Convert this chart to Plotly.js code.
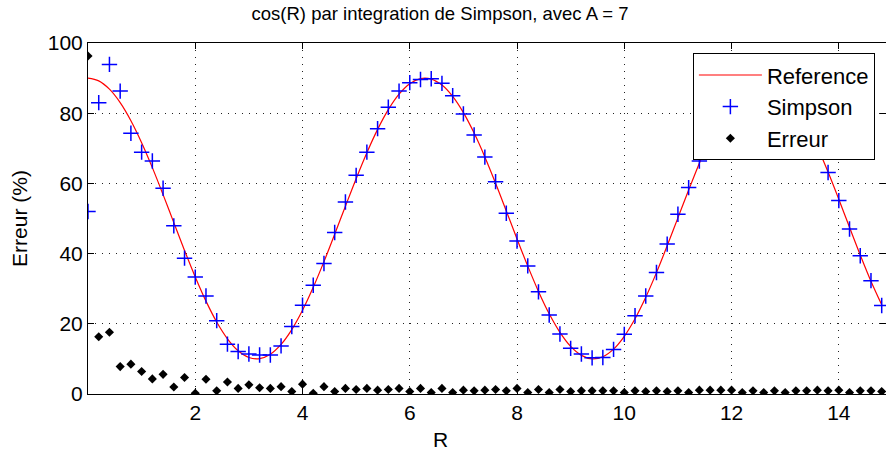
<!DOCTYPE html>
<html>
<head>
<meta charset="utf-8">
<script src="https://cdn.plot.ly/plotly-3.0.1.min.js"></script>
<style>html,body{margin:0;padding:0;background:#fff;}#chart{width:886px;height:460px;}</style>
</head>
<body>
<div id="chart"></div>
<script>
// R values (step 0.2)
const R = [0,0.2,0.4,0.6,0.8,1.0,1.2,1.4,1.6,1.8,2.0,2.2,2.4,2.6,2.8,3.0,3.2,3.4,3.6,3.8,4.0,4.2,4.4,4.6,4.8,5.0,5.2,5.4,5.6,5.8,6.0,6.2,6.4,6.6,6.8,7.0,7.2,7.4,7.6,7.8,8.0,8.2,8.4,8.6,8.8,9.0,9.2,9.4,9.6,9.8,10.0,10.2,10.4,10.6,10.8,11.0,11.2,11.4,11.6,11.8,12.0,12.2,12.4,12.6,12.8,13.0,13.2,13.4,13.6,13.8,14.0,14.2,14.4,14.6,14.8];
const reference = [90.0,89.2,86.84,83.01,77.87,71.61,64.49,56.8,48.83,40.91,33.35,26.46,20.5,15.72,12.31,10.4,10.07,11.33,14.13,18.36,23.85,30.39,37.71,45.51,53.5,61.35,68.74,75.39,81.02,85.42,88.41,89.86,89.73,88.01,84.78,80.16,74.33,67.54,60.05,52.16,44.18,36.43,29.23,22.85,17.56,13.55,11.01,10.01,10.61,12.78,16.44,21.43,27.56,34.58,42.23,50.18,58.1,65.76,72.81,78.94,83.75,87.34,89.45,89.98,88.91,86.3,82.24,76.89,70.47,63.24,55.47,47.49,39.61,32.13,25.41];
const simpson = [52,83.0,93.9,86.3,74.3,68.9,66.4,58.6,47.9,38.7,33.3,27.9,20.9,14.2,12.1,11.4,11.1,11.1,13.7,19.2,25.3,31.0,37.2,46.0,54.7,62.3,68.9,75.6,81.7,86.3,88.7,89.6,89.8,88.5,85.0,79.8,73.8,67.5,60.5,51.5,43.6,36.5,29.1,22.5,17.1,13.0,11.4,10.3,10.4,12.7,17.0,22.3,27.9,34.6,42.7,51.2,58.8,66.4,72.8,78.9,83.8,87.3,89.5,90.0,88.9,86.3,82.2,76.9,70.5,63.1,55.1,47.0,39.4,32.3,25.2];
const erreur = [96.3,16.3,17.6,7.8,8.5,6.4,4.3,5.6,2.0,4.7,0.2,4.2,0.9,3.4,1.6,2.6,1.8,1.6,2.1,0.7,2.8,0.2,2.1,0.7,1.6,1.3,1.6,1.1,1.3,1.6,0.7,1.6,0.4,1.6,0.4,1.1,0.9,1.1,1.3,0.9,1.6,0.4,1.3,0.4,1.3,0.7,0.9,0.9,0.9,0.9,0.4,0.9,0.7,0.9,0.7,0.9,0.4,1.1,1.1,1.1,1.1,0.4,0.9,0.4,0.9,0.4,0.9,0.9,1.1,0.9,1.1,0.4,0.9,0.9,0.7];
const xTicks = [2,4,6,8,10,12,14];
const yTicks = [0,20,40,60,80,100];

const FONT = 'Liberation Sans, Arial, Helvetica, sans-serif';
const traces = [
  {x: R, y: reference, name: 'Reference', mode: 'lines', type: 'scatter',
   line: {color: '#ff0000', width: 1.2, shape: 'spline'}},
  {x: R, y: simpson, name: 'Simpson', mode: 'markers', type: 'scatter',
   marker: {symbol: 'cross-thin-open', size: 11, color: '#0000ff', line: {color: '#0000ff', width: 1.5}}},
  {x: R, y: erreur, name: 'Erreur', mode: 'markers', type: 'scatter',
   marker: {symbol: 'diamond', size: 7, color: '#000000'}}
];
const axisCommon = {
  showline: true, linecolor: '#000', linewidth: 1, mirror: 'ticks',
  ticks: 'inside', ticklen: 6, tickcolor: '#000', tickwidth: 1,
  showgrid: true, gridcolor: '#222', griddash: '1px,6px', gridwidth: 1,
  zeroline: false, tickfont: {family: FONT, size: 21, color: '#000'}
};
const layout = {
  width: 886, height: 460,
  margin: {l: 88, r: 0, t: 43, b: 66},
  paper_bgcolor: '#fff', plot_bgcolor: '#fff',
  title: {text: 'cos(R) par integration de Simpson, avec A = 7', font: {family: FONT, size: 18.5, color: '#000'},
          xref: 'container', x: 440 / 886, xanchor: 'center', yref: 'container', y: 0.985, yanchor: 'top'},
  xaxis: Object.assign({}, axisCommon, {range: [0, 14.88], tickvals: xTicks, ticktext: xTicks.map(String)}),
  yaxis: Object.assign({}, axisCommon, {range: [0, 100], tickvals: yTicks, ticktext: yTicks.map(String),
          title: {text: 'Erreur (%)', font: {family: FONT, size: 21, color: '#000'}, standoff: 14}}),
  annotations: [{text: 'R', xref: 'paper', yref: 'paper', x: (440 - 88) / 798, y: -0.09, xanchor: 'center', yanchor: 'top',
                 showarrow: false, font: {family: FONT, size: 21, color: '#000'}}],
  showlegend: true,
  legend: {x: 0.758, y: 0.971, xanchor: 'left', yanchor: 'top', bgcolor: '#fff', bordercolor: '#000', borderwidth: 1,
           font: {family: FONT, size: 22, color: '#000'}, itemwidth: 63, tracegroupgap: 0}
};
Plotly.newPlot('chart', traces, layout, {staticPlot: true, displayModeBar: false});
</script>
</body>
</html>
